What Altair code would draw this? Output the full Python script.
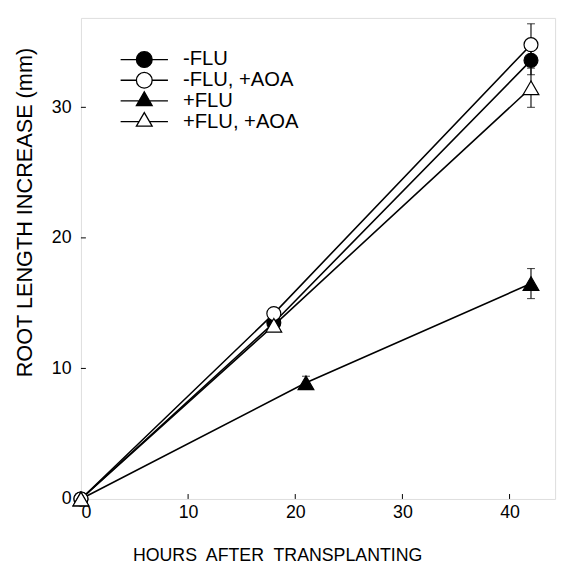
import altair as alt
import pandas as pd

# ---- data ----
series_names = ["-FLU", "-FLU, +AOA", "+FLU", "+FLU, +AOA"]

hours_minus_flu = [0, 18, 42]
length_minus_flu = [0, 13.5, 33.6]
err_minus_flu = [0, 0.4, 1.1]

hours_minus_flu_aoa = [0, 18, 42]
length_minus_flu_aoa = [0, 14.2, 34.8]
err_minus_flu_aoa = [0, 0.4, 1.6]

hours_plus_flu = [0, 21, 42]
length_plus_flu = [0, 8.9, 16.5]
err_plus_flu = [0, 0.5, 1.15]

hours_plus_flu_aoa = [0, 18, 42]
length_plus_flu_aoa = [0, 13.3, 31.5]
err_plus_flu_aoa = [0, 0.45, 1.5]

x_tick_values = [0, 10, 20, 30, 40]
y_tick_values = [0, 10, 20, 30]
x_inner_ticks = [10, 20, 30, 40]
y_inner_ticks = [10, 20, 30]

marker_shapes = ["circle", "circle", "triangle-up", "triangle-up"]
marker_fills = ["black", "white", "black", "white"]
marker_strokes = ["black", "black", "black", "black"]
marker_sizes = [200, 200, 256, 256]

# legend glyphs: short line with marker (unit coords scaled by sqrt(size)/2)
legend_circle = "M-3,0H-1M1,0H3M-1,0A1,1 0 1,1 1,0A1,1 0 1,1 -1,0Z"
legend_triangle = "M-3,0H-0.667M0.667,0H3M0,-1.155L-1,0.577L1,0.577Z"
legend_shapes = [legend_circle, legend_circle, legend_triangle, legend_triangle]

rows = []
for name, xs, ys, es in [
    (series_names[0], hours_minus_flu, length_minus_flu, err_minus_flu),
    (series_names[1], hours_minus_flu_aoa, length_minus_flu_aoa, err_minus_flu_aoa),
    (series_names[2], hours_plus_flu, length_plus_flu, err_plus_flu),
    (series_names[3], hours_plus_flu_aoa, length_plus_flu_aoa, err_plus_flu_aoa),
]:
    for x, y, e in zip(xs, ys, es):
        rows.append({"series": name, "hours": x, "length": y,
                     "lo": y - e, "hi": y + e, "err": e})
df = pd.DataFrame(rows)

W, H = 481, 488
FONT = "Liberation Sans"

x_scale = alt.Scale(domain=[0, 44.25], nice=False, zero=False)
y_scale = alt.Scale(domain=[0, 36.85], nice=False)

x_axis = alt.Axis(values=x_tick_values, ticks=False, grid=False, domain=False,
                  labelFont=FONT, labelFontSize=18, labelColor="black", labelPadding=5,
                  title="HOURS\u00a0 AFTER\u00a0 TRANSPLANTING", titleFont=FONT,
                  titleFontSize=18, titleFontWeight="normal", titleColor="black",
                  titleX=199, titleY=48, titleAlign="center", titleBaseline="top")
y_axis = alt.Axis(values=y_tick_values, ticks=False, grid=False, domain=False,
                  labelFont=FONT, labelFontSize=18, labelColor="black", labelPadding=10,
                  title="ROOT LENGTH INCREASE (mm)", titleFont=FONT,
                  titleFontSize=22, titleFontWeight="normal", titleColor="black",
                  titleAngle=270, titleX=-57, titleY=197, titleAlign="center",
                  titleBaseline="middle")

X = alt.X("hours:Q", scale=x_scale, axis=x_axis)
Y = alt.Y("length:Q", scale=y_scale, axis=y_axis)

base = alt.Chart(df)

lines = base.mark_line(color="black", strokeWidth=1.6).encode(
    x=X, y=Y, detail="series:N", order="hours:Q")

err_df = base.transform_filter("datum.err > 0")
bars = err_df.mark_rule(color="black", strokeWidth=1.1).encode(
    x=X, y=alt.Y("lo:Q", scale=y_scale, axis=y_axis), y2="hi:Q")
caps_hi = err_df.mark_tick(color="black", orient="horizontal", size=8, thickness=1.1).encode(
    x=X, y=alt.Y("hi:Q", scale=y_scale, axis=y_axis))
caps_lo = err_df.mark_tick(color="black", orient="horizontal", size=8, thickness=1.1).encode(
    x=X, y=alt.Y("lo:Q", scale=y_scale, axis=y_axis))

points = base.mark_point(filled=True, stroke="black", strokeWidth=1.2, opacity=1).encode(
    x=X, y=Y,
    shape=alt.Shape("series:N", scale=alt.Scale(domain=series_names, range=marker_shapes), legend=None),
    fill=alt.Fill("series:N", scale=alt.Scale(domain=series_names, range=marker_fills), legend=None),
    size=alt.Size("series:N", scale=alt.Scale(type="ordinal", domain=series_names, range=marker_sizes), legend=None),
)

legend_props = dict(orient="none", legendX=54, legendY=32, title=None,
                    labelFont=FONT, labelFontSize=20.5, labelColor="black",
                    symbolSize=256, labelOffset=29, rowPadding=-3.5, padding=0,
                    symbolStrokeColor="black", symbolStrokeWidth=1.3)

legend_layer = base.transform_filter("false").mark_point(
    filled=True, strokeWidth=1.3, opacity=1).encode(
    x=X, y=Y,
    shape=alt.Shape("series:N", scale=alt.Scale(domain=series_names, range=legend_shapes),
                    legend=alt.Legend(**legend_props)),
    fill=alt.Fill("series:N", scale=alt.Scale(domain=series_names, range=marker_fills),
                  legend=alt.Legend(**legend_props)),
    stroke=alt.Stroke("series:N", scale=alt.Scale(domain=series_names, range=marker_strokes),
                      legend=alt.Legend(**legend_props)),
)

tick_y_df = pd.DataFrame({"v": y_inner_ticks})
tick_x_df = pd.DataFrame({"v": x_inner_ticks})
yticks = alt.Chart(tick_y_df).mark_rule(color="black", strokeWidth=1).encode(
    y=alt.Y("v:Q", scale=y_scale, axis=y_axis), x=alt.value(0), x2=alt.value(5))
xticks = alt.Chart(tick_x_df).mark_rule(color="black", strokeWidth=1).encode(
    x=alt.X("v:Q", scale=x_scale, axis=x_axis), y=alt.value(H), y2=alt.value(H - 5))

chart = alt.layer(lines, bars, caps_hi, caps_lo, yticks, xticks, points, legend_layer).resolve_scale(
    shape="independent", fill="independent", stroke="independent"
).properties(
    width=W, height=H,
    autosize=alt.AutoSizeParams(type="none"),
    padding={"left": 74, "top": 6, "right": 7, "bottom": 68},
).configure_view(stroke="black", strokeWidth=1.2).configure(background="white")

chart.save("out.html", embed_options={"renderer": "svg", "actions": False})
